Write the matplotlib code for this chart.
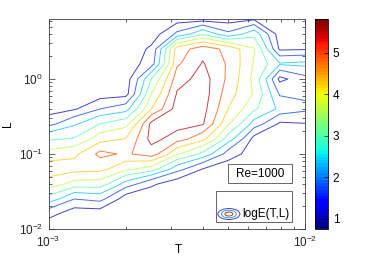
import numpy as np
import matplotlib
matplotlib.use("Agg")
import matplotlib.pyplot as plt
from matplotlib.patches import Ellipse, Rectangle
from matplotlib.colors import Normalize
from matplotlib.cm import ScalarMappable
from matplotlib.ticker import NullFormatter

plt.rcParams['font.family'] = ['Liberation Sans', 'DejaVu Sans']
plt.rcParams['mathtext.default'] = 'regular'
plt.rcParams['font.size'] = 8.5

# ----------------------------
# grid (log10 of T and L) and logE values
# ----------------------------
t_exp = [-3.0, -2.9, -2.8, -2.7, -2.6, -2.5, -2.4, -2.3, -2.2, -2.1, -2.0]
l_exp = [-2.0, -1.8, -1.6, -1.4, -1.2, -1.0, -0.8, -0.6, -0.4, -0.2, 0.0, 0.2, 0.4, 0.6, 0.8]

# one row per L value (bottom to top), one column per T value
logE = [
    [0.75, 0.75, 0.75, 0.75, 0.75, 0.75, 0.75, 0.75, 0.75, 0.75, 0.75],
    [1.29, 0.75, 0.75, 0.75, 0.75, 0.75, 0.75, 0.75, 0.75, 0.75, 0.75],
    [2.74, 1.73, 1.94, 0.75, 0.75, 0.75, 0.75, 0.75, 0.75, 0.75, 0.75],
    [3.98, 3.38, 3.35, 2.09, 1.20, 0.75, 0.75, 0.75, 0.75, 0.75, 0.75],
    [4.61, 4.50, 4.44, 3.79, 3.32, 1.98, 1.09, 0.75, 0.75, 0.75, 0.75],
    [3.84, 4.10, 5.05, 4.77, 5.22, 3.71, 2.82, 1.42, 0.75, 0.75, 0.75],
    [2.90, 3.04, 3.96, 4.27, 5.72, 5.17, 4.44, 2.68, 0.87, 0.75, 0.75],
    [1.54, 2.26, 2.99, 3.37, 5.67, 5.81, 5.56, 3.66, 2.09, 0.98, 1.07],
    [0.75, 1.03, 1.73, 2.09, 4.24, 5.81, 5.72, 4.22, 3.10, 2.21, 1.87],
    [0.75, 0.75, 0.75, 0.85, 3.61, 5.56, 5.81, 4.50, 3.55, 1.65, 1.59],
    [0.75, 0.75, 0.75, 0.75, 2.99, 5.22, 5.78, 4.72, 3.43, 0.92, 1.54],
    [0.75, 0.75, 0.75, 0.75, 1.42, 4.77, 5.56, 4.77, 3.55, 2.43, 2.54],
    [0.75, 0.75, 0.75, 0.75, 1.20, 4.55, 5.22, 4.66, 3.66, 0.98, 1.03],
    [0.75, 0.75, 0.75, 0.75, 0.75, 1.87, 2.88, 1.87, 2.76, 0.75, 0.75],
    [0.75, 0.75, 0.75, 0.75, 0.75, 0.75, 0.75, 0.75, 0.98, 0.75, 0.75],
]

zmin, zmax = 0.75, 5.81
level_lo, level_hi, n_levels = 1.10, 5.50, 8
cbar_ticks = [1, 2, 3, 4, 5]

T = 10.0 ** np.array(t_exp)
L = 10.0 ** np.array(l_exp)
Z = np.array(logE)

# ----------------------------
# figure
# ----------------------------
fig = plt.figure(figsize=(3.74, 2.60), dpi=100)
ax = fig.add_axes([0.1297, 0.1192, 0.687, 0.8077])
cax = fig.add_axes([0.8422, 0.1192, 0.0348, 0.8077])

cmap = plt.get_cmap('jet', 64)
norm = Normalize(vmin=zmin, vmax=zmax)
levels = np.linspace(level_lo, level_hi, n_levels)

ax.set_xscale('log')
ax.set_yscale('log')
ax.contour(T, L, Z, levels=levels, cmap=cmap, norm=norm, linewidths=0.7, alpha=0.75)
ax.set_xlim(1e-3, 1e-2)
ax.set_ylim(1e-2, 10 ** 0.8)

ax.xaxis.set_minor_formatter(NullFormatter())
ax.yaxis.set_minor_formatter(NullFormatter())
ax.set_xlabel('T', va='center')
ax.set_ylabel('L')
ax.xaxis.set_label_coords(0.504, -0.098)
ax.yaxis.set_label_coords(-0.134, 0.5)
ax.tick_params(which='both', direction='in', top=True, right=True, width=0.5, colors='0.15')
ax.tick_params(which='major', length=4, pad=4)
ax.tick_params(which='minor', length=2.5)
for s in ax.spines.values():
    s.set_linewidth(0.6)
    s.set_color('0.25')

# Re box
ax.add_patch(Rectangle((0.6985, 0.219), 0.249, 0.0905, transform=ax.transAxes,
                       fc='white', ec='0.3', lw=0.6, zorder=5))
ax.text(0.823, 0.264, 'Re=1000', transform=ax.transAxes, ha='center', va='center', zorder=6)

# legend box with a little contour icon
ax.add_patch(Rectangle((0.652, 0.0333), 0.2955, 0.1477, transform=ax.transAxes,
                       fc='white', ec='0.3', lw=0.6, zorder=5))
for w, h, c in [(0.0856, 0.0524, '#4040ff'), (0.058, 0.036, '#30b0a0'), (0.031, 0.019, '#c03030')]:
    ax.add_patch(Ellipse((0.702, 0.0714), w, h, transform=ax.transAxes,
                         fill=False, ec=c, lw=0.7, zorder=6))
ax.text(0.753, 0.0714, 'logE(T,L)', transform=ax.transAxes, ha='left', va='center', zorder=6)

# colorbar
cb = fig.colorbar(ScalarMappable(norm=norm, cmap=cmap), cax=cax, ticks=cbar_ticks)
cb.outline.set_linewidth(0.6)
cb.ax.tick_params(direction='in', length=3, width=0.5, labelsize=8.5)

fig.savefig('out.png', dpi=100)
